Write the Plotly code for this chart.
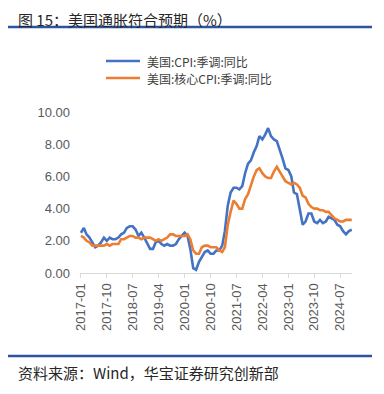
import plotly.graph_objects as go
import pandas as pd

months = pd.date_range("2017-01-01", "2024-11-01", freq="MS")

cpi = [2.5, 2.8, 2.4, 2.2, 1.9, 1.6, 1.7, 1.9, 2.2, 2.0, 2.2, 2.1,
       2.1, 2.2, 2.4, 2.5, 2.8, 2.9, 2.9, 2.7, 2.3, 2.5, 2.2, 1.9,
       1.5, 1.5, 1.9, 2.0, 1.8, 1.7, 1.8, 1.7, 1.7, 1.8, 2.1, 2.3,
       2.5, 2.3, 1.5, 0.3, 0.2, 0.7, 1.0, 1.3, 1.4, 1.2, 1.2, 1.4,
       1.4, 1.7, 2.6, 4.2, 5.0, 5.3, 5.3, 5.2, 5.4, 6.2, 6.8, 7.0,
       7.5, 7.9, 8.5, 8.3, 8.6, 9.0, 8.5, 8.3, 8.2, 7.7, 7.1, 6.5,
       6.4, 6.0, 5.0, 4.9, 4.0, 3.0, 3.2, 3.7, 3.7, 3.2, 3.1, 3.3,
       3.1, 3.2, 3.5, 3.4, 3.3, 3.0, 2.9, 2.6, 2.4, 2.6, 2.7]

core = [2.3, 2.2, 2.0, 1.9, 1.7, 1.7, 1.7, 1.7, 1.7, 1.8, 1.7, 1.8,
        1.8, 1.8, 2.1, 2.1, 2.2, 2.3, 2.3, 2.2, 2.2, 2.1, 2.2, 2.2,
        2.2, 2.1, 2.0, 2.1, 2.0, 2.1, 2.2, 2.4, 2.4, 2.3, 2.3, 2.3,
        2.3, 2.4, 2.1, 1.4, 1.2, 1.2, 1.6, 1.7, 1.7, 1.6, 1.6, 1.6,
        1.4, 1.3, 1.6, 3.0, 3.8, 4.5, 4.3, 4.0, 4.0, 4.6, 4.9, 5.5,
        6.0, 6.4, 6.5, 6.2, 6.0, 5.9, 5.9, 6.3, 6.6, 6.3, 6.0, 5.7,
        5.6, 5.5, 5.6, 5.5, 5.3, 4.8, 4.7, 4.3, 4.1, 4.0, 4.0, 3.9,
        3.9, 3.8, 3.8, 3.6, 3.4, 3.3, 3.2, 3.2, 3.3, 3.3, 3.3]

tick_labels = ["2017-01", "2017-10", "2018-07", "2019-04", "2020-01", "2020-10",
               "2021-07", "2022-04", "2023-01", "2023-10", "2024-07"]
series_names = ["美国:CPI:季调:同比", "美国:核心CPI:季调:同比"]
series_colors = ["#4472C4", "#ED7D31"]
title_text = "图 15：美国通胀符合预期（%）"
source_text = "资料来源：Wind，华宝证券研究创新部"

font_cjk = "Noto Sans CJK SC"

fig = go.Figure()
for vals, name, col in zip([cpi, core], series_names, series_colors):
    fig.add_trace(go.Scatter(x=months, y=vals, mode="lines", name=name,
                             line=dict(color=col, width=2.6)))

# page body has an 8px margin: figure origin sits at (8, 8) in the window
fig.update_layout(
    width=376, height=386,
    margin=dict(l=72, r=32, t=96, b=121, pad=0),
    paper_bgcolor="white", plot_bgcolor="white",
    font=dict(family=font_cjk, color="#595959", size=11),
    showlegend=False,
    xaxis=dict(
        range=["2016-12-22", "2024-11-03"],
        tickvals=[pd.Timestamp(t + "-01") for t in tick_labels],
        ticktext=tick_labels, tickangle=-90,
        showgrid=False, showline=True, linecolor="#D9D9D9", linewidth=1,
        ticks="outside", ticklen=4, tickcolor="#D9D9D9",
        tickfont=dict(family="Arial, Liberation Sans", size=13, color="#595959"),
        zeroline=False,
    ),
    yaxis=dict(
        range=[0, 10.5], tickvals=[0, 2, 4, 6, 8, 10], tickformat=".2f",
        showgrid=False, showline=False, zeroline=False, ticks="",
        ticklabelstandoff=9,
        tickfont=dict(family="Arial, Liberation Sans", size=13, color="#595959"),
    ),
)

def px_x(p):
    return (p - 80) / 272.0

def px_y(p):
    return (273 - p) / 169.0

for yy in (27, 356):
    fig.add_shape(type="line", xref="paper", yref="paper",
                  x0=px_x(8), x1=px_x(372), y0=px_y(yy), y1=px_y(yy),
                  line=dict(color="#2E54A1", width=2.5))

# legend
for i, (name, col) in enumerate(zip(series_names, series_colors)):
    yy = 61 + 17 * i
    fig.add_shape(type="line", xref="paper", yref="paper",
                  x0=px_x(106), x1=px_x(140), y0=px_y(yy), y1=px_y(yy),
                  line=dict(color=col, width=2.6))
    fig.add_annotation(text=name, xref="paper", yref="paper",
                       x=px_x(145), y=px_y(yy), xanchor="left", yanchor="middle",
                       showarrow=False, font=dict(family=font_cjk, size=12, color="#404040"))

fig.add_annotation(text=title_text, xref="paper", yref="paper",
                   x=px_x(16), y=px_y(19), xanchor="left", yanchor="middle",
                   showarrow=False, font=dict(family=font_cjk, size=15, color="#262626"))
fig.add_annotation(text=source_text, xref="paper", yref="paper",
                   x=px_x(16), y=px_y(372), xanchor="left", yanchor="middle",
                   showarrow=False, font=dict(family=font_cjk, size=15, color="#262626"))

fig.write_html("out.html")
